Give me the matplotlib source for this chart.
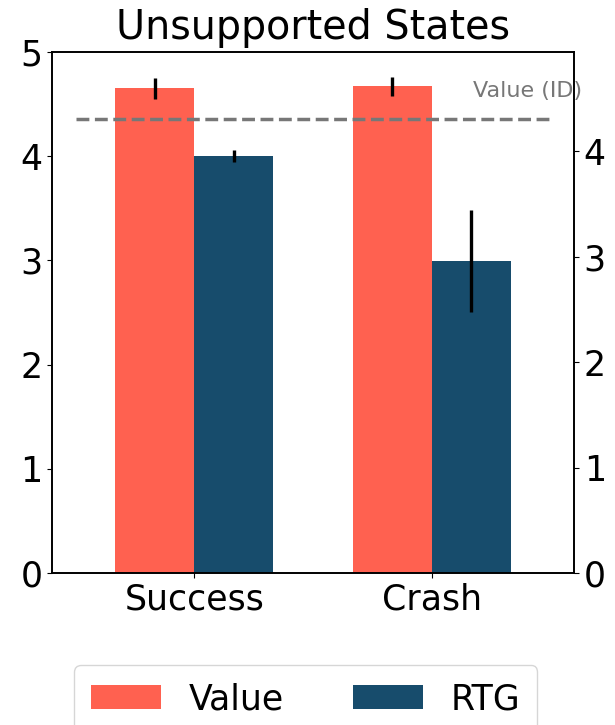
import numpy as np
import matplotlib
matplotlib.use("Agg")
import matplotlib.pyplot as plt

categories = ["Success", "Crash"]
value_means = [4.65, 4.67]
value_errs = [0.10, 0.09]
rtg_means = [4.00, 2.99]
rtg_errs = [0.06, 0.49]
value_id = 4.36
right_ticks = [0, 1, 2, 3, 4]

value_color = "#FF6150"
rtg_color = "#174C6C"

plt.rcParams["font.size"] = 25

fig = plt.figure(figsize=(6.15, 7.25), dpi=100)
ax = fig.add_axes([0.0846, 0.2097, 0.8487, 0.7186])

x = np.arange(len(categories))
width = 0.333
err_kw = dict(elinewidth=2.4, ecolor="black", capsize=0)

ax.bar(x - width / 2, value_means, width, yerr=value_errs, color=value_color,
       label="Value", error_kw=err_kw)
ax.bar(x + width / 2, rtg_means, width, yerr=rtg_errs, color=rtg_color,
       label="RTG", error_kw=err_kw)

ax.hlines(value_id, -0.5, 1.5, colors="#777777", linestyles="--", linewidth=2.5)
ax.text(1.405, 4.63, "Value (ID)", color="#777777", fontsize=16,
        ha="center", va="center", clip_on=False)

ax.set_xlim(-0.6, 1.6)
ax.set_ylim(0, 5)
ax.set_xticks(x)
ax.set_xticklabels(categories)
ax.set_title("Unsupported States", fontsize=28.5, pad=9)

ax2 = ax.twinx()
ax2.set_ylim(0, 4.94)
ax2.set_yticks(right_ticks)

for a in (ax, ax2):
    for s in a.spines.values():
        s.set_linewidth(1.2)

fig.legend(loc="upper center", bbox_to_anchor=(0.497, 0.107), ncol=2,
           fontsize=25, columnspacing=2.0, handletextpad=0.8,
           borderpad=0.5, fancybox=True)

fig.savefig("out.png", dpi=100)
